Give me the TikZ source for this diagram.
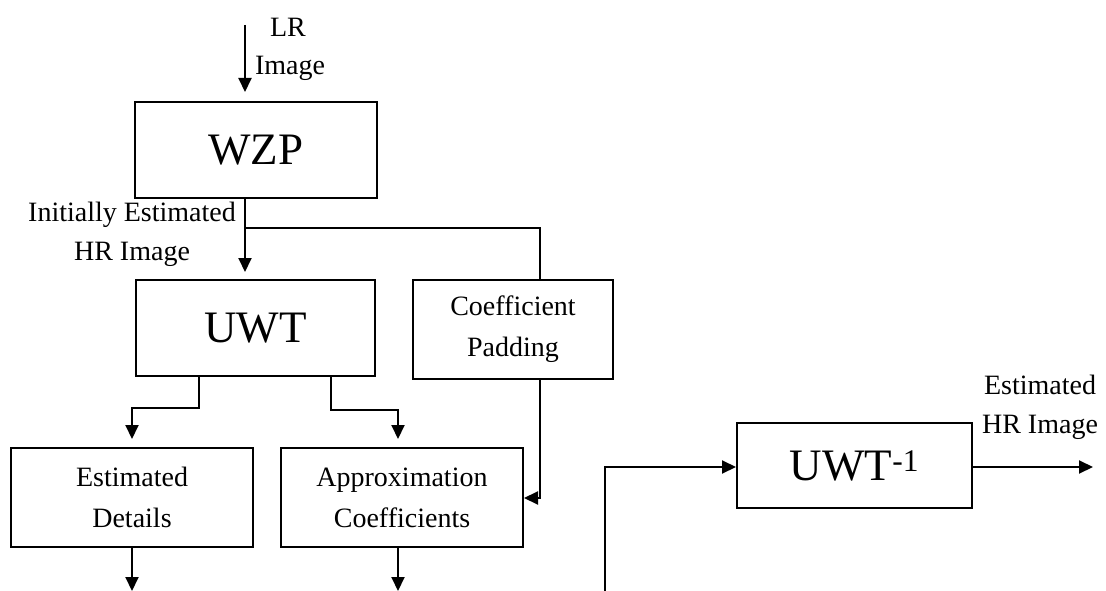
\documentclass[tikz,border=0pt]{standalone}
\usepackage{fontspec}
\setmainfont{Liberation Serif}
\usetikzlibrary{arrows.meta,calc}
\begin{document}
\begin{tikzpicture}[x=1pt,y=-1pt,
  box/.style={draw,line width=2pt,inner sep=0pt,align=center},
  big/.style={font=\fontsize{45}{48}\selectfont},
  small/.style={font=\fontsize{28}{41}\selectfont},
  lbl/.style={font=\fontsize{28}{39}\selectfont,inner sep=0pt,align=center},
  conn/.style={line width=2pt},
  arr/.style={conn,-{Triangle[width=13pt,length=14pt]}}]
\useasboundingbox (0,0) rectangle (1106,591);
% boxes
\node[box,big,minimum width=242pt,minimum height=96pt] (wzp) at (256,150) {WZP};
\node[box,big,minimum width=239pt,minimum height=96pt] (uwt) at (255.5,328) {UWT};
\node[box,small,minimum width=200pt,minimum height=99pt] (pad) at (513,329.5) {Coefficient\\Padding};
\node[box,small,minimum width=242pt,minimum height=99pt] (det) at (132,497.5) {Estimated\\Details};
\node[box,small,minimum width=242pt,minimum height=99pt] (app) at (402,497.5) {Approximation\\Coefficients};
\node[box,big,minimum width=235pt,minimum height=85pt] (inv) at (854.5,465.5) {UWT\textsuperscript{-1}};
% labels
\node[lbl] (llr) at (288,27) {LR};
\node[lbl] (limg) at (290,68) {Image};
\node[lbl] (lie) at (132,234.5) {Initially Estimated\\HR Image};
\node[lbl] (lest) at (1040,407) {Estimated\\HR Image};
% coordinates
\coordinate (in) at (245,25);
\coordinate (w1) at (245,198);
\coordinate (j1) at (245,228);
\coordinate (j2) at (540,228);
\coordinate (u1) at (199,376);
\coordinate (u1b) at (199,408);
\coordinate (u1c) at (132,408);
\coordinate (u2) at (331,376);
\coordinate (u2b) at (331,410);
\coordinate (u2c) at (398,410);
\coordinate (p1) at (540,379);
\coordinate (p2) at (540,498);
\coordinate (dout) at (132,591);
\coordinate (aout) at (398,591);
\coordinate (s1) at (605,591);
\coordinate (s2) at (605,467);
\coordinate (out) at (1093,467);
% connectors
\draw[arr] (in) -- ($(in |- wzp.north)+(0,-9)$);
\draw[arr] (w1) -- ($(w1 |- uwt.north)+(0,-7)$);
\draw[conn] (j1) -- (j2) -- (j2 |- pad.north);
\draw[arr] (u1) -- (u1b) -- (u1c) -- ($(u1c |- det.north)+(0,-8)$);
\draw[arr] (u2) -- (u2b) -- (u2c) -- ($(u2c |- app.north)+(0,-8)$);
\draw[arr] (p1) -- (p2) -- (p2 -| app.east);
\draw[arr] (dout |- det.south) -- (dout);
\draw[arr] (aout |- app.south) -- (aout);
\draw[arr] (s1) -- (s2) -- (s2 -| inv.west);
\draw[arr] (s2 -| inv.east) -- (out);
\end{tikzpicture}
\end{document}
